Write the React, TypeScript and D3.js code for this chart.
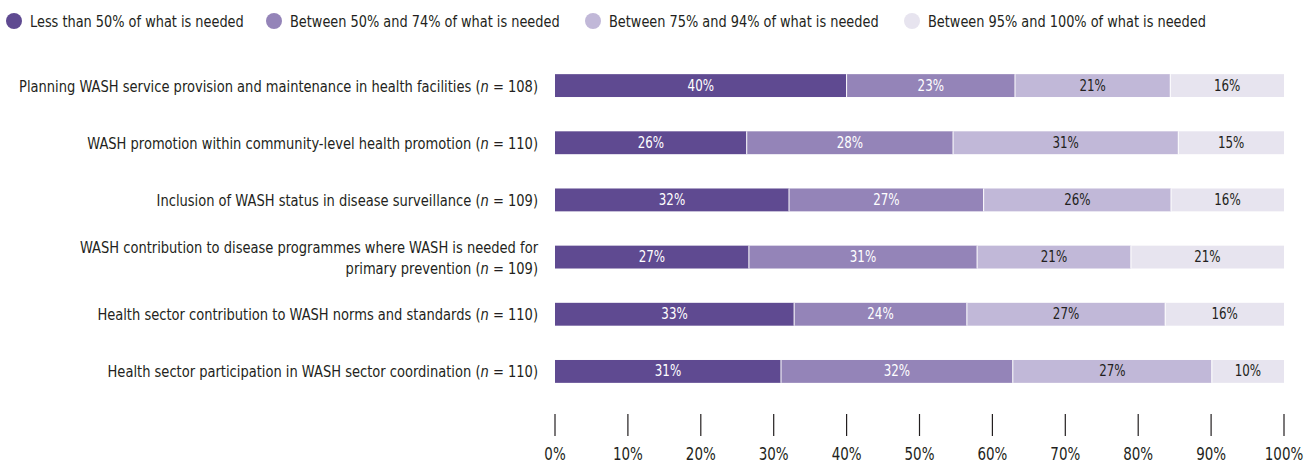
import * as React from "react";
import { scaleLinear, scaleBand, stack } from "d3";

const categories = [
  ["Planning WASH service provision and maintenance in health facilities (", "108)"],
  ["WASH promotion within community-level health promotion (", "110)"],
  ["Inclusion of WASH status in disease surveillance (", "109)"],
  ["WASH contribution to disease programmes where WASH is needed for", "primary prevention (", "109)"],
  ["Health sector contribution to WASH norms and standards (", "110)"],
  ["Health sector participation in WASH sector coordination (", "110)"],
];

const seriesNames = [
  "Less than 50% of what is needed",
  "Between 50% and 74% of what is needed",
  "Between 75% and 94% of what is needed",
  "Between 95% and 100% of what is needed",
];

// shares per row
const lessThan50 = [40, 26.3, 32.1, 26.6, 32.8, 31.0];
const from50to74 = [23.1, 28.3, 26.7, 31.3, 23.7, 31.8];
const from75to94 = [21.3, 30.9, 25.7, 21.1, 27.2, 27.3];
const from95to100 = [15.6, 14.5, 15.5, 21.0, 16.3, 9.9];

const ticks = [0, 10, 20, 30, 40, 50, 60, 70, 80, 90, 100];

const colors = ["#5f4a91", "#9484b8", "#c1b8d8", "#e7e4ef"];
const textColors = ["#ffffff", "#ffffff", "#231f20", "#231f20"];
const legendX = [14, 274, 593, 912];

const FONT = "'DejaVu Sans', sans-serif";
const SQUEEZE = 0.88;

// narrow text: squeeze horizontally around its anchor point
const NText = (props: any) => {
  const { x, y, sx = SQUEEZE, children, ...rest } = props;
  return (
    <text transform={`translate(${x},${y}) scale(${sx},1)`} {...rest}>
      {children}
    </text>
  );
};

export default function App() {
  const width = 1314;
  const height = 463;

  const rows = categories.map((c, i) => ({
    i,
    a: lessThan50[i],
    b: from50to74[i],
    c: from75to94[i],
    d: from95to100[i],
  }));
  const keys = ["a", "b", "c", "d"];
  const stacked = stack<any>().keys(keys)(rows);

  const x = scaleLinear().domain([0, 100]).range([555, 1284]);
  const y = scaleBand<number>()
    .domain(categories.map((_, i) => i))
    .range([57, 400])
    .paddingInner(0.6)
    .paddingOuter(0.3);

  const labelX = 538;

  return (
    <svg
      width={width}
      height={height}
      style={{ position: "absolute", left: 0, top: 0, fontFamily: FONT, fontStretch: "condensed" }}
    >
      <rect width={width} height={height} fill="#ffffff" />
      {/* legend */}
      {seriesNames.map((name, i) => (
        <g key={name}>
          <circle cx={legendX[i]} cy={21} r={8} fill={colors[i]} />
          <NText x={legendX[i] + 16} y={27} sx={0.87} fontSize={16.5} fill="#231f20">
            {name}
          </NText>
        </g>
      ))}

      {/* bars */}
      {stacked.map((layer, si) => (
        <g key={layer.key}>
          {layer.map((d, ri) => {
            const x0 = x(d[0]);
            const x1 = x(d[1]);
            const yy = y(ri) as number;
            const h = y.bandwidth();
            return (
              <g key={ri}>
                <rect x={x0} y={yy} width={x1 - x0} height={h} fill={colors[si]} />
                <line x1={x0} x2={x0} y1={yy} y2={yy + h} stroke="#ffffff" strokeWidth={si ? 1 : 0} />
                <NText
                  x={(x0 + x1) / 2}
                  y={yy + h / 2 + 5}
                  textAnchor="middle"
                  fontSize={15}
                  fill={textColors[si]}
                >
                  {Math.round(d[1] - d[0])}%
                </NText>
              </g>
            );
          })}
        </g>
      ))}

      {/* category labels */}
      {categories.map((c, i) => {
        const cy = (y(i) as number) + y.bandwidth() / 2;
        const twoLine = c.length === 3;
        const lines = twoLine ? [[c[0]], [c[1], c[2]]] : [[c[0], c[1]]];
        const lh = 21;
        const start = cy - ((lines.length - 1) * lh) / 2 + 6;
        return (
          <NText key={i} x={labelX} y={start} textAnchor="end" fontSize={16.5} fill="#231f20">
            {lines.map((ln, li) => (
              <tspan key={li} x={0} y={li * lh}>
                {ln.length === 2 ? (
                  <>
                    {ln[0]}
                    <tspan fontStyle="italic">n</tspan>
                    {" = " + ln[1]}
                  </>
                ) : (
                  ln[0]
                )}
              </tspan>
            ))}
          </NText>
        );
      })}

      {/* axis */}
      {ticks.map((t) => (
        <g key={t}>
          <line x1={x(t)} x2={x(t)} y1={414} y2={436} stroke="#231f20" strokeWidth={1.2} />
          <NText x={x(t)} y={460} textAnchor="middle" fontSize={17} fill="#231f20">
            {t}%
          </NText>
        </g>
      ))}
    </svg>
  );
}
